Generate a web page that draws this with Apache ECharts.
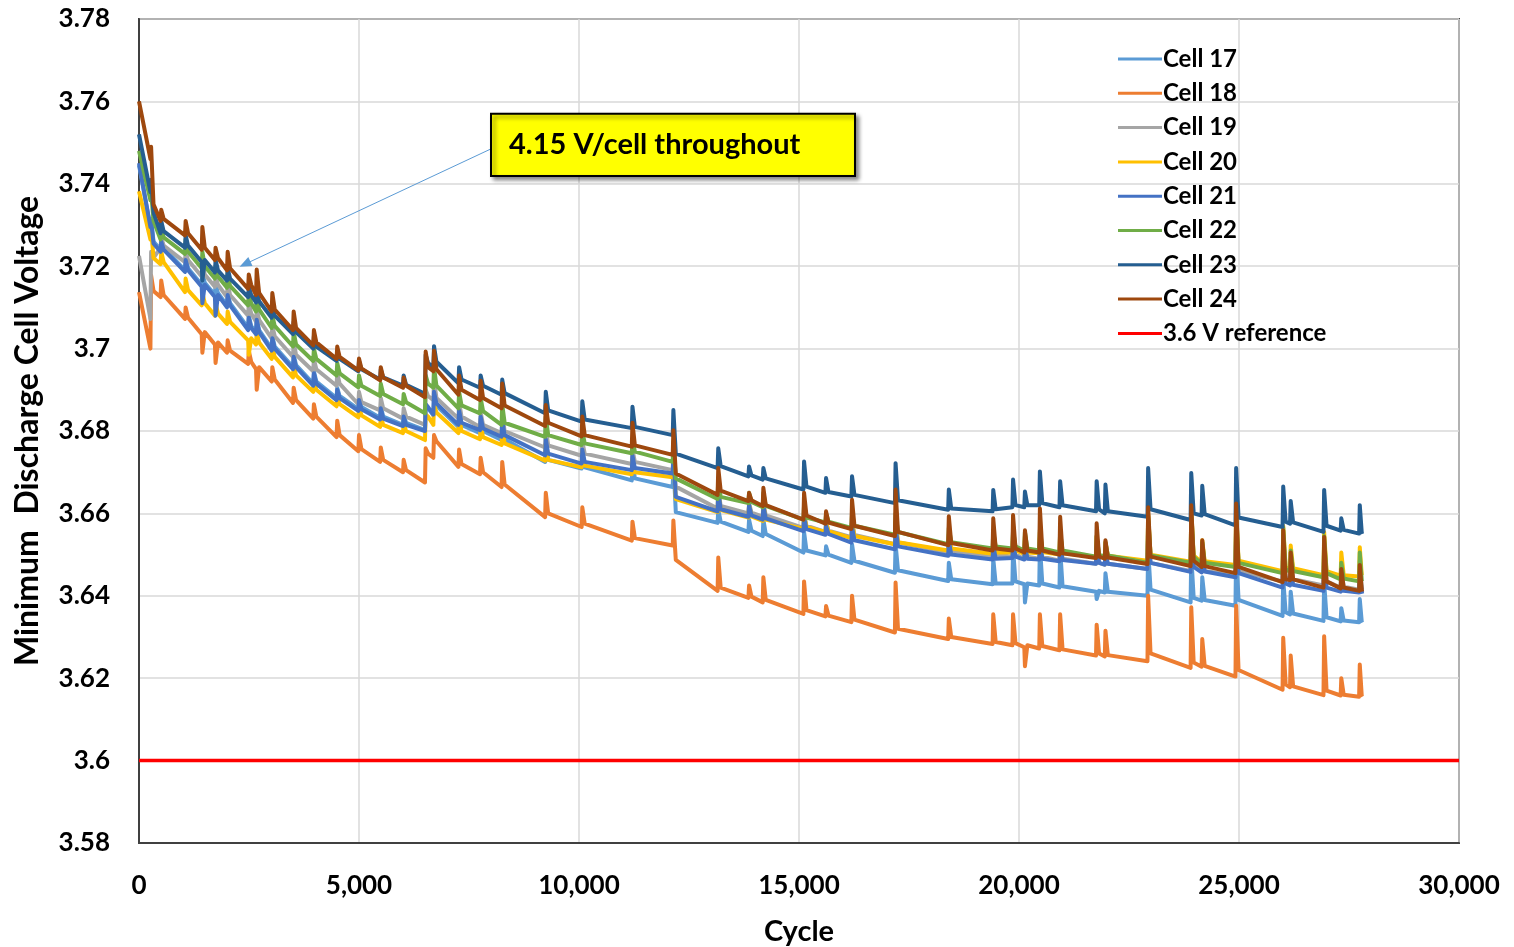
<!DOCTYPE html>
<html>
<head>
<meta charset="utf-8">
<script src="https://cdn.jsdelivr.net/npm/echarts@6/dist/echarts.min.js"></script>
<style>
html,body{margin:0;padding:0;background:#fff;}
#chart{width:1514px;height:947px;}
</style>
</head>
<body>
<div id="chart"></div>
<script>
// ---------------- DATA ----------------
const SERIES_NAMES = ['Cell 17','Cell 18','Cell 19','Cell 20','Cell 21','Cell 22','Cell 23','Cell 24'];
const REF_NAME = '3.6 V reference';
const X_TICKS = [0, 5000, 10000, 15000, 20000, 25000, 30000];
const Y_TICKS = [3.58, 3.6, 3.62, 3.64, 3.66, 3.68, 3.7, 3.72, 3.74, 3.76, 3.78];

// shared cycle positions: for each rest event -> before, spike, after
const CYCLES = [0,
 260,275,330, 490,505,560, 1045,1060,1115, 1425,1440,1495, 1725,1740,1795,
 2000,2015,2070, 2480,2495,2550, 2660,2675,2730, 3015,3030,3085, 3500,3515,3570,
 3960,3975,4030, 4490,4505,4560, 4985,5000,5055, 5480,5495,5550, 6000,6015,6070,
 6500,6515,6570, 6690,6705,6760, 7260,7275,7330, 7750,7765,7820, 8240,8255,8310,
 9230,9245,9300, 10060,10075,10130, 11200,11215,11270, 12130,12145,12200,
 13150,13165,13220, 13850,13865,13920, 14175,14190,14245, 15100,15115,15170,
 15600,15615,15670, 16190,16205,16260, 17180,17195,17250, 18390,18405,18460,
 19400,19415,19470, 19850,19865,19920, 20120,20135,20190, 20460,20475,20530,
 20920,20935,20990, 21750,21765,21820, 21950,21965,22020, 22920,22935,22990,
 23900,23915,23970, 24150,24165,24220, 24920,24935,24990, 25990,26005,26060,
 26160,26175,26230, 26920,26935,26990, 27310,27325,27380, 27730,27745,27790,
 27800];

const CELL_17 = [3.7445,
 3.7295,3.7315,3.726, 3.724,3.7265,3.7245, 3.719,3.722,3.7195, 3.7155,3.7185,3.716, 3.713,3.7155,3.7135,
 3.7105,3.7135,3.711, 3.705,3.708,3.7055, 3.704,3.7075,3.7045, 3.700,3.703,3.7005, 3.6955,3.6985,3.696,
 3.6915,3.6945,3.692, 3.688,3.6905,3.6885, 3.6853,3.688,3.6858, 3.6832,3.686,3.6835, 3.6815,3.684,3.682,
 3.6802,3.6865,3.6855, 3.6838,3.689,3.6862, 3.681,3.6845,3.6815, 3.6795,3.683,3.680, 3.6778,3.682,3.678,
 3.6725,3.677,3.673, 3.6709,3.6745,3.6712, 3.668,3.6725,3.6685, 3.6664,3.6725,3.6603,
 3.6577,3.6609,3.658, 3.6555,3.6585,3.6558, 3.6545,3.6585,3.655, 3.6505,3.6555,3.651,
 3.6498,3.652,3.650, 3.648,3.6525,3.6485, 3.6456,3.6525,3.6462, 3.6436,3.648,3.644,
 3.6428,3.649,3.643, 3.643,3.6514,3.6435, 3.6428,3.6384,3.643, 3.6425,3.6522,3.643,
 3.642,3.6514,3.6423, 3.641,3.6392,3.6412, 3.6408,3.6455,3.641, 3.640,3.6514,3.6415,
 3.6384,3.6498,3.6395, 3.6388,3.6445,3.639, 3.6376,3.6512,3.639, 3.6351,3.6441,3.636,
 3.6355,3.641,3.6357, 3.6339,3.6433,3.6348, 3.6338,3.637,3.634, 3.6336,3.6392,3.6337,
 3.6335];

const CELL_18 = [3.7137,
 3.700,3.7178,3.714, 3.7125,3.7165,3.713, 3.7072,3.710,3.7075, 3.7035,3.699,3.704, 3.701,3.6965,3.7015,
 3.699,3.702,3.6995, 3.6963,3.6995,3.6968, 3.695,3.690,3.6955, 3.692,3.6955,3.6925, 3.6868,3.6905,3.6875,
 3.683,3.6865,3.6835, 3.6785,3.6825,3.679, 3.6751,3.679,3.6756, 3.6725,3.676,3.673, 3.670,3.673,3.6705,
 3.6675,3.6758,3.6745, 3.6735,3.679,3.6775, 3.6713,3.6755,3.672, 3.6695,3.6735,3.670, 3.6664,3.6725,3.667,
 3.6591,3.665,3.660, 3.6567,3.6615,3.6575, 3.6534,3.658,3.654, 3.6522,3.6583,3.6487,
 3.6412,3.6493,3.642, 3.6395,3.6425,3.6398, 3.6384,3.6445,3.639, 3.6356,3.6435,3.6365,
 3.635,3.6375,3.6352, 3.6336,3.640,3.6342, 3.6311,3.6432,3.632, 3.6295,3.6345,3.630,
 3.6283,3.6355,3.6288, 3.628,3.6355,3.6285, 3.6275,3.6229,3.628, 3.6272,3.6355,3.6278,
 3.6268,3.6355,3.627, 3.6255,3.633,3.626, 3.6253,3.6315,3.6256, 3.6241,3.640,3.626,
 3.6225,3.6372,3.6238, 3.6228,3.6295,3.623, 3.6204,3.6376,3.622, 3.6172,3.6298,3.6185,
 3.6178,3.6255,3.618, 3.6159,3.6302,3.617, 3.6158,3.620,3.616, 3.6155,3.6233,3.6157,
 3.6155];

const CELL_19 = [3.7225,
 3.7072,3.7235,3.722, 3.7245,3.727,3.725, 3.721,3.7235,3.7215, 3.7175,3.721,3.718, 3.715,3.7175,3.7155,
 3.7125,3.716,3.713, 3.708,3.711,3.7085, 3.7065,3.7095,3.707, 3.7025,3.7055,3.703, 3.698,3.7015,3.6985,
 3.6945,3.6975,3.695, 3.691,3.694,3.6915, 3.6865,3.6895,3.687, 3.685,3.688,3.6855, 3.683,3.6855,3.6835,
 3.6815,3.690,3.6885, 3.6875,3.6925,3.688, 3.683,3.687,3.6835, 3.681,3.6845,3.6815, 3.6795,3.684,3.680,
 3.676,3.681,3.6765, 3.674,3.6775,3.6745, 3.672,3.6755,3.6725, 3.6705,3.6755,3.6665,
 3.6612,3.666,3.6618, 3.660,3.6625,3.6602, 3.6592,3.6625,3.6595, 3.6565,3.660,3.657,
 3.6555,3.658,3.6558, 3.6542,3.658,3.6548, 3.6525,3.658,3.653, 3.6505,3.6545,3.651,
 3.6495,3.6535,3.650, 3.6495,3.654,3.650, 3.649,3.6535,3.6495, 3.649,3.654,3.6495,
 3.6485,3.6535,3.649, 3.6478,3.6525,3.648, 3.6475,3.651,3.6478, 3.6465,3.6575,3.648,
 3.646,3.6585,3.6475, 3.6458,3.651,3.646, 3.645,3.6585,3.646, 3.6435,3.6545,3.6445,
 3.6438,3.649,3.644, 3.6425,3.6525,3.6435, 3.642,3.646,3.6422, 3.6415,3.6485,3.6418,
 3.6415];

const CELL_20 = [3.7382,
 3.7265,3.729,3.722, 3.7205,3.7235,3.721, 3.7137,3.717,3.7142, 3.7105,3.7135,3.711, 3.708,3.711,3.7085,
 3.706,3.709,3.7065, 3.702,3.6985,3.7025, 3.701,3.704,3.7015, 3.6975,3.7005,3.698, 3.693,3.696,3.6935,
 3.6895,3.6925,3.690, 3.686,3.6885,3.6865, 3.6833,3.686,3.6838, 3.681,3.6835,3.6815, 3.6795,3.682,3.680,
 3.6778,3.684,3.6835, 3.6815,3.6865,3.6845, 3.6795,3.6835,3.680, 3.678,3.6815,3.6785, 3.6766,3.6805,3.677,
 3.6728,3.677,3.673, 3.6712,3.675,3.6716, 3.6695,3.673,3.670, 3.6688,3.674,3.6635,
 3.6603,3.665,3.6608, 3.659,3.662,3.6593, 3.6582,3.662,3.6585, 3.6562,3.6595,3.6567,
 3.6555,3.6578,3.6557, 3.654,3.658,3.6545, 3.6525,3.658,3.653, 3.651,3.655,3.6515,
 3.6502,3.6545,3.6505, 3.6505,3.6555,3.651, 3.6502,3.6545,3.6505, 3.6503,3.6555,3.6506,
 3.650,3.655,3.6503, 3.6495,3.6545,3.6497, 3.6495,3.653,3.6497, 3.6485,3.660,3.650,
 3.6483,3.661,3.6498, 3.6482,3.6535,3.6484, 3.6475,3.6612,3.6485, 3.646,3.657,3.647,
 3.6465,3.6522,3.6467, 3.645,3.6555,3.646, 3.6449,3.6505,3.645, 3.6447,3.6518,3.645,
 3.6449];

const CELL_21 = [3.745,
 3.7295,3.731,3.7255, 3.7235,3.726,3.724, 3.7186,3.7215,3.719, 3.715,3.711,3.7155, 3.7125,3.708,3.713,
 3.710,3.713,3.7105, 3.7045,3.7075,3.705, 3.7035,3.707,3.704, 3.6995,3.7025,3.700, 3.695,3.698,3.6955,
 3.691,3.694,3.6915, 3.6875,3.690,3.688, 3.6849,3.6875,3.6853, 3.6828,3.6855,3.683, 3.6812,3.6835,3.6815,
 3.680,3.6865,3.6858, 3.684,3.6895,3.6867, 3.6815,3.685,3.682, 3.6802,3.6835,3.6806, 3.6786,3.6825,3.679,
 3.6741,3.678,3.6745, 3.6721,3.6755,3.6725, 3.6705,3.674,3.671, 3.6697,3.6745,3.664,
 3.6605,3.6655,3.661, 3.6592,3.662,3.6595, 3.6585,3.6618,3.6588, 3.6557,3.659,3.6562,
 3.6548,3.657,3.655, 3.6529,3.6568,3.6535, 3.6513,3.657,3.652, 3.6497,3.6535,3.650,
 3.6488,3.6525,3.649, 3.6492,3.653,3.6495, 3.6488,3.6525,3.649, 3.6488,3.653,3.649,
 3.6484,3.6525,3.6487, 3.6478,3.652,3.648, 3.6476,3.650,3.6478, 3.6465,3.6555,3.648,
 3.6458,3.6555,3.647, 3.6457,3.6505,3.6459, 3.6445,3.656,3.6455, 3.642,3.6525,3.643,
 3.6425,3.647,3.6427, 3.6412,3.6505,3.642, 3.641,3.6445,3.6412, 3.6408,3.646,3.641,
 3.6405];

const CELL_22 = [3.748,
 3.736,3.738,3.731, 3.7265,3.729,3.727, 3.723,3.7265,3.7235, 3.7195,3.7235,3.720, 3.717,3.720,3.7175,
 3.7148,3.7185,3.7152, 3.7105,3.7135,3.711, 3.709,3.7125,3.7095, 3.705,3.708,3.7055, 3.7005,3.704,3.701,
 3.697,3.700,3.6975, 3.6935,3.6965,3.694, 3.6906,3.6935,3.691, 3.6885,3.6915,3.689, 3.6865,3.689,3.687,
 3.6843,3.6935,3.6915, 3.6905,3.6955,3.691, 3.6855,3.6895,3.6862, 3.6843,3.688,3.6848, 3.6815,3.6865,3.682,
 3.6786,3.6835,3.679, 3.6766,3.680,3.677, 3.6746,3.678,3.675, 3.6725,3.6775,3.6685,
 3.6635,3.6685,3.664, 3.6625,3.665,3.6628, 3.6615,3.665,3.6618, 3.6585,3.662,3.659,
 3.6578,3.660,3.658, 3.6565,3.660,3.657, 3.6548,3.660,3.6555, 3.6525,3.6565,3.653,
 3.6515,3.6555,3.652, 3.6515,3.656,3.652, 3.651,3.6555,3.6515, 3.651,3.656,3.6515,
 3.6505,3.6555,3.651, 3.6495,3.6545,3.650, 3.6495,3.653,3.6498, 3.648,3.6595,3.6498,
 3.648,3.6605,3.6495, 3.6478,3.653,3.648, 3.647,3.6605,3.648, 3.6455,3.6565,3.6465,
 3.6458,3.651,3.646, 3.6445,3.6545,3.6455, 3.644,3.648,3.6442, 3.6435,3.6505,3.6438,
 3.6435];

const CELL_23 = [3.752,
 3.738,3.741,3.733, 3.728,3.731,3.7285, 3.7245,3.7275,3.725, 3.721,3.7165,3.7215, 3.7185,3.7215,3.719,
 3.7165,3.7195,3.717, 3.7125,3.715,3.713, 3.7112,3.714,3.7115, 3.7075,3.7105,3.708, 3.7035,3.7065,3.704,
 3.700,3.703,3.7005, 3.697,3.699,3.6975, 3.6945,3.697,3.695, 3.6925,3.695,3.693, 3.691,3.6935,3.6912,
 3.689,3.6985,3.6965, 3.6955,3.7006,3.6968, 3.6916,3.6955,3.6925, 3.6905,3.6935,3.691, 3.6888,3.6925,3.6892,
 3.6843,3.6895,3.685, 3.6823,3.6872,3.6828, 3.6807,3.6859,3.681, 3.679,3.6851,3.6745,
 3.671,3.6758,3.6715, 3.669,3.6714,3.6692, 3.6682,3.671,3.6685, 3.6658,3.6726,3.6665,
 3.665,3.6686,3.6652, 3.6641,3.669,3.6645, 3.6625,3.6722,3.6632, 3.6609,3.6658,3.6612,
 3.6605,3.6657,3.661, 3.6615,3.6682,3.662, 3.6615,3.6653,3.662, 3.662,3.6702,3.6625,
 3.6615,3.6678,3.662, 3.6605,3.6678,3.661, 3.660,3.667,3.6605, 3.6592,3.671,3.661,
 3.6584,3.6698,3.660, 3.6595,3.6667,3.6598, 3.6571,3.671,3.659, 3.6567,3.6665,3.658,
 3.6575,3.663,3.6578, 3.6555,3.6657,3.657, 3.6558,3.6588,3.656, 3.6551,3.662,3.6553,
 3.655];

const CELL_24 = [3.760,
 3.746,3.749,3.735, 3.731,3.7337,3.7315, 3.7275,3.731,3.728, 3.724,3.7295,3.7245, 3.7215,3.7245,3.722,
 3.719,3.7235,3.7195, 3.7145,3.718,3.7155, 3.713,3.7192,3.7135, 3.709,3.7135,3.7095, 3.7045,3.709,3.705,
 3.7008,3.7045,3.7015, 3.6975,3.7005,3.698, 3.6947,3.6976,3.6952, 3.6923,3.6955,3.693, 3.6905,3.693,3.691,
 3.6882,3.6993,3.6955, 3.6945,3.6995,3.695, 3.6888,3.6935,3.690, 3.6875,3.6922,3.688, 3.6855,3.6915,3.6862,
 3.6812,3.6863,3.682, 3.6787,3.6835,3.679, 3.6762,3.682,3.6765, 3.6742,3.6802,3.6697,
 3.6645,3.671,3.6655, 3.663,3.665,3.6632, 3.6618,3.6662,3.662, 3.6585,3.665,3.6595,
 3.6575,3.6605,3.6578, 3.6562,3.6633,3.657, 3.6545,3.6658,3.6555, 3.6523,3.6593,3.6528,
 3.651,3.6588,3.6515, 3.651,3.6596,3.6515, 3.6505,3.6559,3.651, 3.6505,3.6612,3.651,
 3.650,3.6592,3.6503, 3.6492,3.6576,3.6495, 3.649,3.6535,3.6493, 3.6477,3.6615,3.6495,
 3.6472,3.662,3.6485, 3.647,3.6535,3.6472, 3.6455,3.6624,3.647, 3.6433,3.6559,3.644,
 3.6438,3.6505,3.644, 3.642,3.6543,3.6435, 3.6418,3.6465,3.642, 3.6412,3.6475,3.6415,
 3.641];

const REF_CYCLES = [0, 30000];
const REF_VOLTS = [3.6, 3.6];

const ANNOT_TEXT = '4.15 V/cell throughout';
// annotation anchors in data coordinates
const ANNOT_BOX = {x0: 8000, y0: 3.7570, x1: 16273, y1: 3.7419};
const ARROW_FROM = [8045, 3.7487];
const ARROW_TO = [2409, 3.7205];

// ---------------- STYLE ----------------
const COLORS = ['#5B9BD5','#ED7D31','#A5A5A5','#FFC000','#4472C4','#70AD47','#255E91','#9E480E'];
const FONT = 'Lato, "Open Sans", sans-serif';

const VALUES = [CELL_17, CELL_18, CELL_19, CELL_20, CELL_21, CELL_22, CELL_23, CELL_24];
VALUES.forEach((arr, i) => { if (arr.length !== CYCLES.length) console.error(SERIES_NAMES[i] + ' length ' + arr.length + ' vs ' + CYCLES.length); });

const chart = echarts.init(document.getElementById('chart'), null, {renderer: 'canvas'});

const series = SERIES_NAMES.map((name, i) => ({
  name: name,
  type: 'line',
  data: CYCLES.map((c, k) => [c, VALUES[i][k]]),
  showSymbol: false,
  symbol: 'none',
  lineStyle: {color: COLORS[i], width: 4, join: 'round'},
  itemStyle: {color: COLORS[i]},
  animation: false,
  z: 2
}));

series.push({
  name: REF_NAME,
  type: 'line',
  data: REF_CYCLES.map((c, k) => [c, REF_VOLTS[k]]),
  showSymbol: false,
  symbol: 'none',
  lineStyle: {color: '#FF0000', width: 3.5},
  itemStyle: {color: '#FF0000'},
  animation: false,
  z: 3,
  markLine: {
    silent: true,
    animation: false,
    symbol: ['none', 'triangle'],
    symbolSize: [10, 12],
    label: {show: false},
    lineStyle: {color: '#5B9BD5', width: 1, type: 'solid'},
    data: [[{coord: ARROW_FROM}, {coord: ARROW_TO}]]
  }
});

const fmtY = v => String(parseFloat(v.toFixed(2)));
const fmtX = v => Math.round(v).toLocaleString('en-US');

chart.setOption({
  animation: false,
  backgroundColor: '#ffffff',
  grid: {left: 139, right: 55, top: 19, bottom: 104, containLabel: false, outerBoundsMode: 'none',
         show: true, borderColor: '#404040', borderWidth: 2, backgroundColor: 'transparent'},
  xAxis: {
    type: 'value', min: X_TICKS[0], max: X_TICKS[X_TICKS.length - 1], interval: X_TICKS[1] - X_TICKS[0],
    name: 'Cycle', nameLocation: 'middle', nameGap: 74,
    nameTextStyle: {fontFamily: FONT, fontWeight: 'bold', fontSize: 29, color: '#000'},
    axisLine: {show: true, lineStyle: {color: '#404040', width: 2}},
    axisTick: {show: false},
    axisLabel: {margin: 30, fontFamily: FONT, fontWeight: 'bold', fontSize: 26, color: '#000', formatter: fmtX},
    splitLine: {show: true, lineStyle: {color: '#D9D9D9', width: 1.5}}
  },
  yAxis: {
    type: 'value', min: Y_TICKS[0], max: Y_TICKS[Y_TICKS.length - 1], interval: 0.02,
    name: 'Minimum  Discharge Cell Voltage', nameLocation: 'middle', nameGap: 95,
    nameTextStyle: {fontFamily: FONT, fontWeight: 'bold', fontSize: 32, color: '#000'},
    axisLine: {show: true, lineStyle: {color: '#404040', width: 2}},
    axisTick: {show: false},
    axisLabel: {margin: 29, fontFamily: FONT, fontWeight: 'bold', fontSize: 26, color: '#000', formatter: fmtY},
    splitLine: {show: true, lineStyle: {color: '#D9D9D9', width: 1.5}}
  },
  legend: {
    orient: 'vertical', left: 1113, top: 42,
    icon: 'rect', itemWidth: 44, itemHeight: 3, itemGap: 10.3,
    textStyle: {fontFamily: FONT, fontWeight: 'bold', fontSize: 24, color: '#000', lineHeight: 24, padding: [0,0,0,-4]},
    data: SERIES_NAMES.concat([{name: REF_NAME, itemStyle: {color: '#FF0000'}}])
  },
  series: series
});

// annotation box anchored in data coordinates
const pA = chart.convertToPixel({gridIndex: 0}, [ANNOT_BOX.x0, ANNOT_BOX.y0]);
const pB = chart.convertToPixel({gridIndex: 0}, [ANNOT_BOX.x1, ANNOT_BOX.y1]);
chart.setOption({
  graphic: [{
    type: 'rect', z: 100,
    shape: {x: pA[0], y: pA[1], width: pB[0] - pA[0], height: pB[1] - pA[1]},
    style: {fill: '#FFFF00', stroke: '#000', lineWidth: 2, shadowBlur: 4, shadowOffsetX: 3, shadowOffsetY: 3, shadowColor: 'rgba(0,0,0,0.45)'}
  }, {
    type: 'text', z: 101,
    x: pA[0] + 18, y: (pA[1] + pB[1]) / 2,
    style: {text: ANNOT_TEXT, fontFamily: FONT, fontWeight: 'bold', fontSize: 29, fill: '#000', verticalAlign: 'middle', align: 'left'}
  }]
});
</script>
</body>
</html>
